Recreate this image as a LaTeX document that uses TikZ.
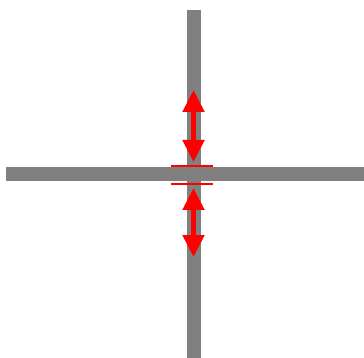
\documentclass[tikz,border=0pt]{standalone}
\usetikzlibrary{arrows.meta}
\definecolor{bargrey}{HTML}{808080}
\definecolor{arrred}{HTML}{FF0000}
\tikzset{
  bar/.style={draw=bargrey, line width=14pt},
  mark line/.style={draw=arrred, line width=1.5pt},
  dblarrow/.style={draw=arrred, line width=5pt, {Triangle[width=21pt,length=22pt]}-{Triangle[width=21pt,length=22pt]}, shorten <=0pt, shorten >=0pt}
}
\begin{document}
\begin{tikzpicture}[x=1pt,y=-1pt]
\useasboundingbox (0,0) rectangle (364,358);
\coordinate (vtop) at (193.5,10);
\coordinate (vbot) at (193.5,358);
\coordinate (hleft) at (6,174.5);
\coordinate (hright) at (364,174.5);
\draw[bar] (vtop) -- (vbot);
\draw[bar] (hleft) -- (hright);
\coordinate (m1l) at (171,166);
\coordinate (m1r) at (213,166);
\coordinate (m2l) at (171,184);
\coordinate (m2r) at (213,184);
\draw[mark line] (m1l) -- (m1r);
\draw[mark line] (m2l) -- (m2r);
\coordinate (a1t) at (193.5,90);
\coordinate (a1b) at (193.5,162);
\coordinate (a2t) at (193.5,188);
\coordinate (a2b) at (193.5,257);
\draw[dblarrow] (a1t) -- (a1b);
\draw[dblarrow] (a2t) -- (a2b);
\end{tikzpicture}
\end{document}
